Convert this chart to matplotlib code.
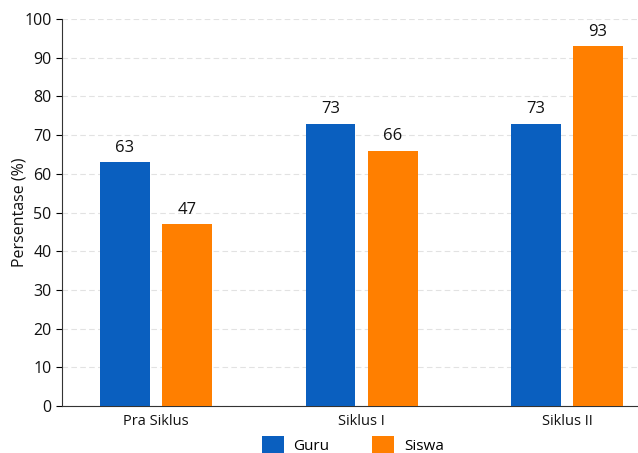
import matplotlib
matplotlib.use("Agg")
import matplotlib.pyplot as plt
import numpy as np

categories = ["Pra Siklus", "Siklus I", "Siklus II"]
guru = [63, 73, 73]
siswa = [47, 66, 93]
yticks = [0, 10, 20, 30, 40, 50, 60, 70, 80, 90, 100]

plt.rcParams['font.family'] = ['Open Sans', 'DejaVu Sans']

fig = plt.figure(figsize=(6.38, 4.53), dpi=100)
ax = fig.add_axes([0.0972, 0.1038, 0.9028, 0.8542])

x = np.arange(len(categories))
w = 0.243
off = 0.151
c_blue = '#0a5fbf'
c_orange = '#ff7f00'
b1 = ax.bar(x - off, guru, w, color=c_blue, label='Guru', zorder=3)
b2 = ax.bar(x + off, siswa, w, color=c_orange, label='Siswa', zorder=3)

for bars, vals in ((b1, guru), (b2, siswa)):
    for r, v in zip(bars, vals):
        ax.text(r.get_x() + r.get_width() / 2, v + 1.6, str(v),
                ha='center', va='bottom', fontsize=12, color='#111111')

ax.set_ylim(0, 100)
ax.set_yticks(yticks)
ax.set_xlim(-0.457, 2.345)
ax.set_xticks(x)
ax.set_xticklabels(categories, fontsize=10.5, color='#111111')
ax.tick_params(axis='y', labelsize=11.5, length=4, labelcolor='#111111')
ax.tick_params(axis='x', length=0, pad=6)
ax.set_ylabel('Persentase (%)', fontsize=11.5, color='#111111')
ax.yaxis.set_label_coords(-0.073, 0.5)
ax.yaxis.label.set_verticalalignment('center')
ax.yaxis.grid(True, linestyle=(0, (5, 3)), color='#e2e2e2', linewidth=0.8, zorder=0)
for s in ('top', 'right'):
    ax.spines[s].set_visible(False)
ax.spines['left'].set_color('#333333')
ax.spines['bottom'].set_color('#333333')

fig.legend(handles=[b1, b2], loc='center', bbox_to_anchor=(0.553, 0.017),
           ncol=2, frameon=False, fontsize=11, handlelength=1.44, handleheight=1.4,
           columnspacing=2.8, handletextpad=0.65)

fig.savefig('out.png', dpi=100)
